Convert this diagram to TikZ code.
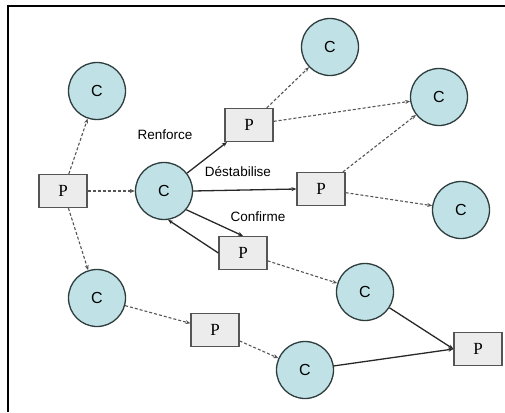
\documentclass[tikz,border=0pt]{standalone}
\usepackage{fontspec}
\setmainfont{Liberation Serif}
\setsansfont{Liberation Sans}
\usepackage{tikz}
\usetikzlibrary{arrows.meta,positioning}
\definecolor{cfill}{RGB}{192,226,230}
\definecolor{cline}{RGB}{45,60,60}
\definecolor{pfill}{RGB}{236,236,236}
\definecolor{pline}{RGB}{85,85,85}
\definecolor{dline}{RGB}{85,85,85}
\definecolor{sline}{RGB}{40,40,40}

\begin{document}
\begin{tikzpicture}[x=1pt, y=-1pt, >={Stealth[length=5pt,width=4pt]},
    cnode/.style={circle, draw=cline, fill=cfill, line width=1.3pt, minimum size=57pt, inner sep=0pt,
                  font=\sffamily\fontsize{16}{16}\selectfont},
    pnode/.style={rectangle, draw=pline, fill=pfill, line width=1.2pt, minimum width=48pt, minimum height=33pt,
                  inner sep=0pt, font=\fontsize{17}{17}\selectfont},
    dash arrow/.style={->, dline, densely dashed, line width=1.1pt},
    solid arrow/.style={->, sline, line width=1.3pt},
    lbl/.style={font=\sffamily\fontsize{13.5}{14}\selectfont, inner sep=0pt}]
  \useasboundingbox (0,0) rectangle (505,412);
  % frame
  \draw[line width=2pt] (8,412) -- (8,6) -- (505,6);
  % circles
  \node[cnode] (cTopL)  at (97,91)   {C};
  \node[cnode] (cMain)  at (164,191) {C};
  \node[cnode] (cTop)   at (330,47)  {C};
  \node[cnode] (cUpR)   at (439,97)  {C};
  \node[cnode] (cRight) at (461,210) {C};
  \node[cnode] (cMidR)  at (365,292) {C};
  \node[cnode] (cBotL)  at (97,298)  {C};
  \node[cnode] (cBotM)  at (305,370) {C};
  % boxes
  \node[pnode] (pLeft) at (63,191)  {P};
  \node[pnode] (pRenf) at (249,125) {P};
  \node[pnode] (pDest) at (321,189) {P};
  \node[pnode] (pConf) at (243,253) {P};
  \node[pnode] (pBot)  at (215,330) {P};
  \node[pnode] (pFarR) at (478,349) {P};
  % labels
  \node[lbl] (lRenf) at (165,135) {Renforce};
  \node[lbl] (lDest) at (238,172) {Déstabilise};
  \node[lbl] (lConf) at (258,217) {Confirme};
  % dashed links
  \draw[dash arrow] (pLeft) -- (cTopL);
  \draw[dash arrow] (pLeft) -- (cMain);
  \draw[dash arrow] (pLeft) -- (cBotL);
  \draw[dash arrow] (pRenf) -- (cTop);
  \draw[dash arrow] (pRenf) -- (cUpR);
  \draw[dash arrow] (pDest) -- (cUpR);
  \draw[dash arrow] (pDest) -- (cRight);
  \draw[dash arrow] (pConf) -- (cMidR);
  \draw[dash arrow] (cBotL) -- (pBot);
  \draw[dash arrow] (pBot) -- (cBotM);
  % solid links
  \draw[solid arrow] (cMain) -- (pRenf);
  \draw[solid arrow] (cMain.east) -- (pDest.west);
  \draw[solid arrow] (cMain.-40) -- (pConf.north);
  \draw[solid arrow] (pConf.west) -- (cMain.-82);
  \draw[solid arrow] (cMidR) -- (pFarR.west);
  \draw[solid arrow] (cBotM) -- (pFarR.west);
\end{tikzpicture}
\end{document}
